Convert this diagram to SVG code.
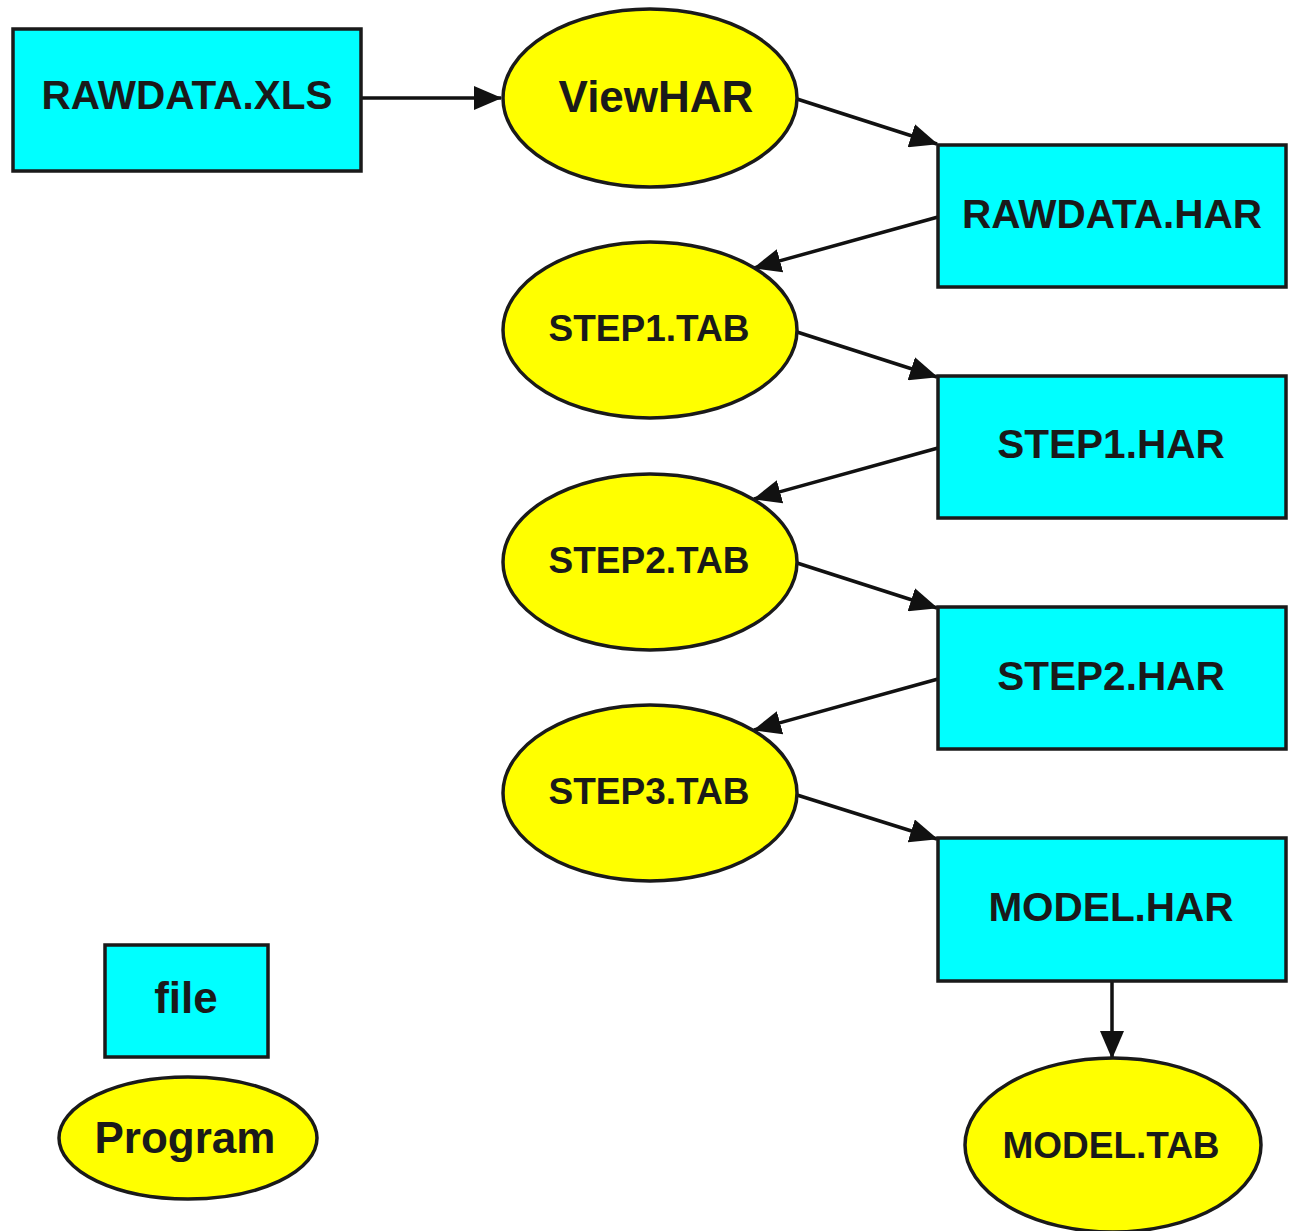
<svg xmlns="http://www.w3.org/2000/svg" width="1290" height="1231" viewBox="0 0 1290 1231">
<style>
.file{fill:#00FFFF;stroke:#1a1a1a;stroke-width:3.5}
.prog{fill:#FFFF00;stroke:#1a1a1a;stroke-width:3.5}
text{font-family:"Liberation Sans",Arial,Helvetica,sans-serif;font-weight:bold;fill:#1a1a1a;text-anchor:middle}
.t39{font-size:40.5px}
.t36{font-size:37px}
.t43{font-size:44px}
.conn line{stroke:#111;stroke-width:3.5;marker-end:url(#arr)}
</style>
<defs>
<marker id="arr" markerUnits="userSpaceOnUse" markerWidth="28" markerHeight="24" refX="27" refY="12" orient="auto">
<path d="M0,0 L28,12 L0,24 z" fill="#111"/>
</marker>
</defs>
<rect width="1290" height="1231" fill="#ffffff"/>
<g class="conn" id="connectors">
<line x1="361" y1="98" x2="501" y2="98"/>
<line x1="797" y1="99" x2="937" y2="144"/>
<line x1="938" y1="217" x2="754" y2="268"/>
<line x1="797" y1="332" x2="937" y2="377"/>
<line x1="938" y1="448" x2="754" y2="499"/>
<line x1="797" y1="563" x2="937" y2="608"/>
<line x1="938" y1="679" x2="754" y2="730"/>
<line x1="797" y1="795" x2="937" y2="839"/>
<line x1="1112" y1="982" x2="1112" y2="1058"/>
</g>
<g id="rawdata_xls"><rect class="file" x="13" y="29" width="348" height="142"/><text class="t39" x="187" y="109">RAWDATA.XLS</text></g>
<g id="viewhar"><ellipse class="prog" cx="650" cy="98" rx="147" ry="89"/><text class="t43" x="656" y="112">ViewHAR</text></g>
<g id="rawdata_har"><rect class="file" x="938" y="145" width="348" height="142"/><text class="t39" x="1112" y="228">RAWDATA.HAR</text></g>
<g id="step1_tab"><ellipse class="prog" cx="650" cy="330" rx="147" ry="88"/><text class="t36" x="649" y="341">STEP1.TAB</text></g>
<g id="step1_har"><rect class="file" x="938" y="376" width="348" height="142"/><text class="t39" x="1111" y="458">STEP1.HAR</text></g>
<g id="step2_tab"><ellipse class="prog" cx="650" cy="562" rx="147" ry="88"/><text class="t36" x="649" y="573">STEP2.TAB</text></g>
<g id="step2_har"><rect class="file" x="938" y="607" width="348" height="142"/><text class="t39" x="1111" y="690">STEP2.HAR</text></g>
<g id="step3_tab"><ellipse class="prog" cx="650" cy="793" rx="147" ry="88"/><text class="t36" x="649" y="804">STEP3.TAB</text></g>
<g id="model_har"><rect class="file" x="938" y="838" width="348" height="143"/><text class="t39" x="1111" y="921">MODEL.HAR</text></g>
<g id="model_tab"><ellipse class="prog" cx="1113" cy="1145" rx="148" ry="87"/><text class="t36" x="1111" y="1158">MODEL.TAB</text></g>
<g id="legend_file"><rect class="file" x="105" y="945" width="163" height="112"/><text class="t43" x="186" y="1013">file</text></g>
<g id="legend_program"><ellipse class="prog" cx="188" cy="1138" rx="129" ry="61"/><text class="t43" x="185" y="1153">Program</text></g>
</svg>
